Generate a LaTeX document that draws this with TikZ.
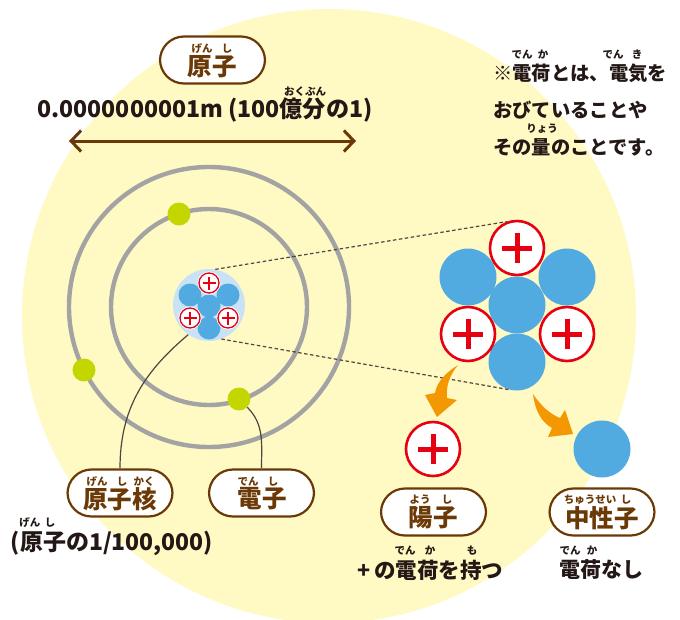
\documentclass[tikz,border=0pt]{standalone}
\usepackage{fontspec}
\setmainfont{Noto Sans CJK JP}
\usetikzlibrary{arrows.meta}
\definecolor{bgyellow}{HTML}{FFF9C4}
\definecolor{nutron}{HTML}{52ABE0}
\definecolor{pluscol}{HTML}{E60012}
\definecolor{browncol}{HTML}{6A3906}
\definecolor{inkcol}{HTML}{231815}
\definecolor{ringcol}{HTML}{A3A3A3}
\definecolor{elecol}{HTML}{C3D600}
\definecolor{nuccol}{HTML}{C9E2F5}
\definecolor{arrcol}{HTML}{F39800}
\tikzset{
  pill/.style={draw=browncol,line width=2.2pt,fill=white,rounded corners=24pt,minimum width=105pt,minimum height=47pt,inner sep=0pt},
  pilltxt/.style={text=browncol,inner sep=0pt,font=\fontsize{24.5}{24.5}\selectfont\bfseries},
  furi/.style={text=inkcol,inner sep=0pt,font=\fontsize{10.5}{10.5}\selectfont\bfseries},
  furib/.style={furi,text=browncol},
  body/.style={text=inkcol,inner sep=0pt,font=\fontsize{#1}{#1}\selectfont\bfseries},
  nutbig/.style={circle,fill=nutron,minimum size=57pt,inner sep=0pt},
  probig/.style={circle,draw=pluscol,line width=2.6pt,fill=white,minimum size=54pt,inner sep=0pt},
  nutsmall/.style={circle,fill=nutron,minimum size=23pt,inner sep=0pt},
  prosmall/.style={circle,draw=pluscol,line width=1.3pt,fill=white,minimum size=20pt,inner sep=0pt},
  electron/.style={circle,fill=elecol,minimum size=23pt,inner sep=0pt},
  ring/.style={circle,draw=ringcol,line width=4.4pt,inner sep=0pt},
  lead/.style={draw=inkcol!80,line width=1.2pt},
  dots/.style={draw=inkcol!80,line width=1.2pt,dash pattern=on 3.5pt off 2.5pt},
  flow/.style={fill=arrcol,draw=none}
}
\begin{document}
\begin{tikzpicture}[x=1pt,y=-1pt]
\useasboundingbox (0,0) rectangle (680,619);
\node[circle,fill=bgyellow,minimum size=614pt,inner sep=0pt] (back) at (329,316) {};

\node[ring,minimum size=280pt] (outer) at (209,307) {};
\node[ring,minimum size=196pt] (inner) at (209,307) {};
\foreach \name/\x/\y in {ea/179/214,eb/84/370,ec/239/399}
{
\node[electron] (\name) at (\x,\y) {};
}

% nucleus in the middle of the rings
\node[circle,fill=nuccol,minimum size=72pt,inner sep=0pt] (nucleus) at (209,305) {};
\foreach \name/\x/\y in {sa/190/295,sb/228/295,sc/209/306,sd/209/328}
{
\node[nutsmall] (\name) at (\x,\y) {};
}
\foreach \name/\x/\y in {se/209/283,sf/190/318,sg/228/318}
{
\node[circle,fill=white,minimum size=23pt,inner sep=0pt] at (\x,\y) {};
\node[prosmall] (\name) at (\x,\y) {};
\draw[pluscol,line width=1.2pt] (\name.center) +(-6.5,0) -- +(6.5,0) +(0,-6.5) -- +(0,6.5);
}

% enlarged nucleus
\foreach \name/\x/\y in {na/468/277,nb/567/277,nc/517/305,nd/517/362,nfree/602/449}
{
\node[nutbig] (\name) at (\x,\y) {};
}
\foreach \name/\x/\y in {pa/517/248,pb/468/334,pc/567/334,pfree/433/449}
{
\node[probig] (\name) at (\x,\y) {};
\draw[pluscol,line width=5pt] (\name.center) +(-15,0) -- +(15,0) +(0,-15) -- +(0,15);
}

\draw[dots] (nucleus.80) -- (pa.111);
\draw[dots] (nucleus.-70) -- (nd.-105);

\draw[flow] (458,365) .. controls (447,372) and (437,381) .. (435,393) -- (425,395) -- (437,417) -- (457,400) -- (447,398) .. controls (446,386) and (449,376) .. (458,365) -- cycle;
\draw[flow] (533,394) .. controls (535,410) and (541,422) .. (552,428) -- (548,437) -- (573,434) -- (565,410) -- (560,418) .. controls (550,414) and (541,406) .. (533,394) -- cycle;

% labels
\node[pill] (atom) at (212.5,60) {};
\node[pill] (core) at (120,493) {};
\node[pill] (elec) at (261.5,493) {};
\node[pill] (prot) at (433.5,512) {};
\node[pill] (neut) at (602,512) {};
\node[pilltxt] (atomt) at (212,67) {原子};
\node[pilltxt] (coret) at (120,499) {原子核};
\node[pilltxt] (elect) at (262,499) {電子};
\node[pilltxt] (prott) at (433,518) {陽子};
\node[pilltxt] (neutt) at (602,518) {中性子};

\draw[lead] (nucleus.235) to[out=220,in=90] (core.north);
\draw[lead] (ec) to[out=-45,in=90] (elec.north);

\coordinate (spanl) at (69,141);
\coordinate (spanr) at (356,141);
\draw[browncol,line width=3pt,{Straight Barb[length=10pt,width=21pt]}-{Straight Barb[length=10pt,width=21pt]}] (spanl) -- (spanr);

\node[body=23.1] (size) at (205,110) {0.0000000001m (100億分の1)};
\node[body=23] (ratio) at (112,543) {(原子の1/100,000)};
\node[body=19.3,anchor=west] (linea) at (493,73) {※電荷とは、電気を};
\node[body=19.3,anchor=west] (lineb) at (493,110) {おびていることや};
\node[body=19.3,anchor=west] (linec) at (493,147) {その量のことです。};
\node[body=21.5] (plus) at (430.5,570) {+\,の電荷を持つ};
\node[body=21] (none) at (601,570) {電荷なし};

\foreach \x/\y/\s [count=\i] in {202/49/げん,227/49/し,97/482/げん,122/482/し,144/482/かく,248/482/でん,273/482/し,420/500/よう,447/500/し,590/500/ちゅうせい,626/500/し}
{
\node[furib] (rb\i) at (\x,\y) {\s};
}
\foreach \x/\y/\s [count=\i] in {305/92/おくぶん,522/55/でん,543/55/か,613/55/でん,637/55/き,542/129/りょう,30/523/げん,50/523/し,405/551/でん,430/551/か,472/551/も,570/551/でん,592/551/か}
{
\node[furi] (rk\i) at (\x,\y) {\s};
}
\end{tikzpicture}
\end{document}
